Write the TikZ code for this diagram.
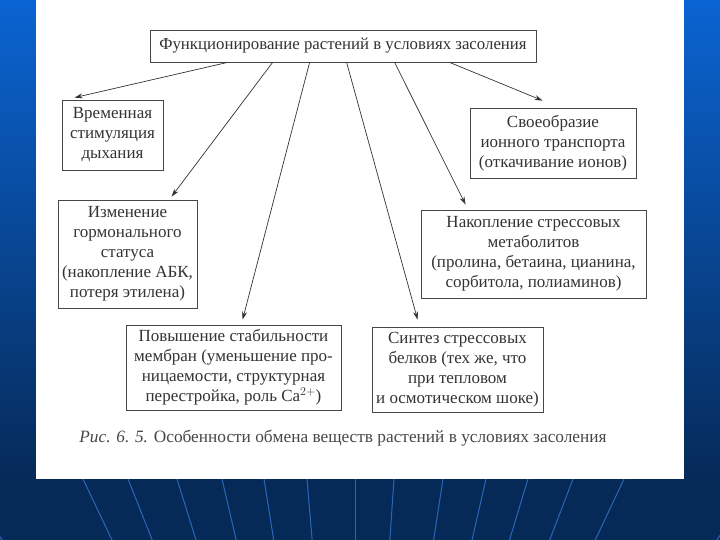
\documentclass[tikz,border=0pt]{standalone}
\usepackage{fontspec}
\setmainfont{Liberation Serif}
\usetikzlibrary{arrows.meta,calc}
\definecolor{ink}{HTML}{333333}
\definecolor{bgtop}{HTML}{0A64D2}
\definecolor{bgmid}{HTML}{0A4A9E}
\definecolor{bgbot}{HTML}{062A58}
\definecolor{ray}{HTML}{2A66B8}
\tikzset{
  box/.style={draw=ink!90, line width=0.8pt, text=ink, align=center, inner sep=0pt,
    font=\fontsize{17}{20}\selectfont},
  arr/.style={draw=ink, line width=0.7pt, -{Stealth[length=8pt,width=5pt]}},
}
\begin{document}
\begin{tikzpicture}[x=1pt,y=-1pt]
\useasboundingbox (0,0) rectangle (720,540);
% background
\shade[top color=bgtop, middle color=bgmid, bottom color=bgbot] (0,0) rectangle (720,480);
\fill[bgbot] (0,479) rectangle (720,540);
\begin{scope}
\clip (0,479) rectangle (720,540);
\foreach \bx in {-40,83,128,177,222,264,307,355,394,443,486,528,573,624,760}
  \draw[ray, line width=1pt] (\bx,479) -- ($(\bx,479)!80pt!(355,1050)$);
\end{scope}
% page
\fill[white] (36,0) rectangle (684,479);
% nodes
\node[box, minimum width=386pt, minimum height=32pt, font=\fontsize{16.8}{20}\selectfont] (top) at (343,46)
  {Функционирование растений в условиях засоления};
\node[box, minimum width=101pt, minimum height=70pt] (b1) at (112.5,135)
  {Временная\\стимуляция\\дыхания};
\node[box, minimum width=166pt, minimum height=70pt] (b2) at (553,143)
  {Своеобразие\\ионного транспорта\\(откачивание ионов)};
\node[box, minimum width=139pt, minimum height=108pt] (b3) at (127.5,254)
  {Изменение\\гормонального\\статуса\\(накопление АБК,\\потеря этилена)};
\node[box, minimum width=225pt, minimum height=88pt] (b4) at (533.5,254)
  {Накопление стрессовых\\метаболитов\\(пролина, бетаина, цианина,\\сорбитола, полиаминов)};
\node[box, minimum width=215pt, minimum height=85pt] (b5) at (233.5,367.5)
  {Повышение стабильности\\мембран (уменьшение про-\\ницаемости, структурная\\перестройка, роль Ca$^{2+}$)};
\node[box, minimum width=171pt, minimum height=85pt] (b6) at (457.5,369.5)
  {Синтез стрессовых\\белков (тех же, что\\при тепловом\\и осмотическом шоке)};
\node[text=ink!90, font=\fontsize{17.3}{20}\selectfont] (cap) at (343,438)
  {\textit{Рис. 6. 5.} Особенности обмена веществ растений в условиях засоления};
% connectors
\draw[arr] ([xshift=78pt]top.south west) -- ([xshift=13pt,yshift=2pt]b1.north west);
\draw[arr] ([xshift=123pt]top.south west) -- ([xshift=114pt,yshift=3pt]b3.north west);
\draw[arr] ([xshift=160pt]top.south west) -- ([xshift=117pt,yshift=5pt]b5.north west);
\draw[arr] ([xshift=197pt]top.south west) -- ([xshift=46pt,yshift=7pt]b6.north west);
\draw[arr] ([xshift=245pt]top.south west) -- ([xshift=45pt,yshift=5pt]b4.north west);
\draw[arr] ([xshift=300pt]top.south west) -- ([xshift=73pt,yshift=7pt]b2.north west);
\end{tikzpicture}
\end{document}
